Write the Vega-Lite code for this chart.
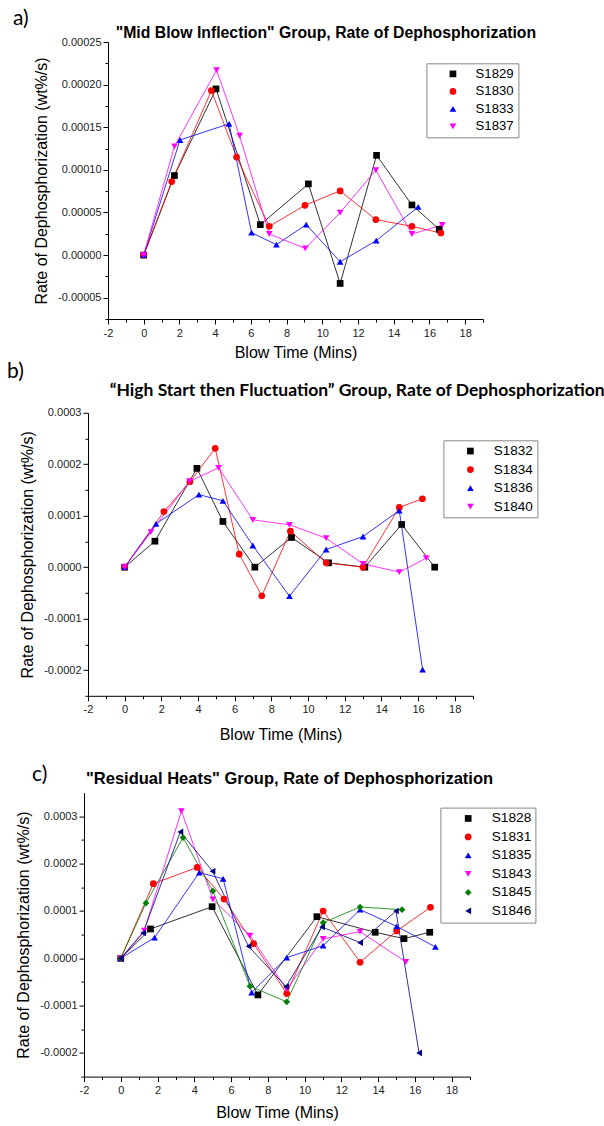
{
  "$schema": "https://vega.github.io/schema/vega-lite/v6.json",
  "background": "white",
  "padding": {"top": 7, "left": 0, "right": 0, "bottom": 0},
  "spacing": 0.8,
  "config": {
    "view": {"stroke": null},
    "title": {"color": "black"},
    "axis": {"grid": false, "domainColor": "black", "tickColor": "black", "labelColor": "#222222", "labelFont": "Liberation Sans", "labelFontSize": 11, "titleFont": "Liberation Sans", "titleFontSize": 16, "titleFontWeight": "normal", "titleColor": "black", "labelFlush": false, "labelOverlap": false},
    "axisX": {"labelPadding": 3, "titlePadding": 6},
    "axisY": {"labelPadding": 2, "titlePadding": 8},
    "legend": {"labelFont": "Liberation Sans", "labelColor": "black", "strokeColor": "#888888", "fillColor": "white", "padding": 4, "symbolStrokeWidth": 0, "symbolSize": 45, "rowPadding": 3.5}
  },
  "resolve": {"scale": {"color": "independent", "shape": "independent", "stroke": "independent"}},
  "datasets": {
    "a": [
      {"s": "S1829", "t": 0, "r": 0}, {"s": "S1829", "t": 1.72, "r": 0.0000933}, {"s": "S1829", "t": 4.05, "r": 0.000195}, {"s": "S1829", "t": 6.53, "r": 0.0000357}, {"s": "S1829", "t": 9.22, "r": 0.0000835}, {"s": "S1829", "t": 11.0, "r": -0.0000333}, {"s": "S1829", "t": 13.04, "r": 0.000117}, {"s": "S1829", "t": 15.02, "r": 0.0000588}, {"s": "S1829", "t": 16.55, "r": 0.0000302},
      {"s": "S1830", "t": 0, "r": 0}, {"s": "S1830", "t": 1.57, "r": 0.0000863}, {"s": "S1830", "t": 3.79, "r": 0.000193}, {"s": "S1830", "t": 5.2, "r": 0.000115}, {"s": "S1830", "t": 7.03, "r": 0.0000337}, {"s": "S1830", "t": 9.03, "r": 0.0000584}, {"s": "S1830", "t": 11.0, "r": 0.0000753}, {"s": "S1830", "t": 13.0, "r": 0.0000416}, {"s": "S1830", "t": 15.02, "r": 0.0000337}, {"s": "S1830", "t": 16.64, "r": 0.0000259},
      {"s": "S1833", "t": 0, "r": 0}, {"s": "S1833", "t": 2.03, "r": 0.000135}, {"s": "S1833", "t": 4.78, "r": 0.000154}, {"s": "S1833", "t": 6.04, "r": 0.0000263}, {"s": "S1833", "t": 7.43, "r": 0.0000122}, {"s": "S1833", "t": 9.1, "r": 0.0000357}, {"s": "S1833", "t": 11.0, "r": -0.0000078}, {"s": "S1833", "t": 13.02, "r": 0.0000169}, {"s": "S1833", "t": 15.37, "r": 0.0000565},
      {"s": "S1837", "t": 0, "r": 0}, {"s": "S1837", "t": 1.72, "r": 0.0001275}, {"s": "S1837", "t": 4.08, "r": 0.000217}, {"s": "S1837", "t": 5.37, "r": 0.00014}, {"s": "S1837", "t": 7.03, "r": 0.0000247}, {"s": "S1837", "t": 9.05, "r": 0.0000078}, {"s": "S1837", "t": 11.0, "r": 0.0000498}, {"s": "S1837", "t": 13.0, "r": 0.0000996}, {"s": "S1837", "t": 15.02, "r": 0.0000247}, {"s": "S1837", "t": 16.72, "r": 0.0000353}
    ],
    "b": [
      {"s": "S1832", "t": 0, "r": 0}, {"s": "S1832", "t": 1.65, "r": 0.0000505}, {"s": "S1832", "t": 3.94, "r": 0.000192}, {"s": "S1832", "t": 5.36, "r": 0.0000888}, {"s": "S1832", "t": 7.1, "r": 0}, {"s": "S1832", "t": 9.1, "r": 0.0000577}, {"s": "S1832", "t": 11.12, "r": 0.0000084}, {"s": "S1832", "t": 13.1, "r": 0}, {"s": "S1832", "t": 15.11, "r": 0.000083}, {"s": "S1832", "t": 16.91, "r": 0},
      {"s": "S1834", "t": 0, "r": 0}, {"s": "S1834", "t": 2.14, "r": 0.000108}, {"s": "S1834", "t": 3.56, "r": 0.000166}, {"s": "S1834", "t": 4.94, "r": 0.000231}, {"s": "S1834", "t": 6.25, "r": 0.0000253}, {"s": "S1834", "t": 7.48, "r": -0.0000557}, {"s": "S1834", "t": 9.04, "r": 0.00007}, {"s": "S1834", "t": 10.99, "r": 0.0000084}, {"s": "S1834", "t": 13.0, "r": 0}, {"s": "S1834", "t": 14.98, "r": 0.000116}, {"s": "S1834", "t": 16.24, "r": 0.000133},
      {"s": "S1836", "t": 0, "r": 0}, {"s": "S1836", "t": 1.71, "r": 0.0000843}, {"s": "S1836", "t": 4.05, "r": 0.000141}, {"s": "S1836", "t": 5.36, "r": 0.000129}, {"s": "S1836", "t": 6.99, "r": 0.0000421}, {"s": "S1836", "t": 8.99, "r": -0.0000564}, {"s": "S1836", "t": 10.99, "r": 0.0000343}, {"s": "S1836", "t": 13.0, "r": 0.0000596}, {"s": "S1836", "t": 14.98, "r": 0.00011}, {"s": "S1836", "t": 16.25, "r": -0.000199},
      {"s": "S1840", "t": 0, "r": 0}, {"s": "S1840", "t": 1.43, "r": 0.000068}, {"s": "S1840", "t": 3.54, "r": 0.000167}, {"s": "S1840", "t": 5.12, "r": 0.000193}, {"s": "S1840", "t": 6.99, "r": 0.000092}, {"s": "S1840", "t": 8.99, "r": 0.0000823}, {"s": "S1840", "t": 10.99, "r": 0.0000564}, {"s": "S1840", "t": 13.0, "r": 0.0000065}, {"s": "S1840", "t": 14.98, "r": -0.0000097}, {"s": "S1840", "t": 16.45, "r": 0.0000175}
    ],
    "c": [
      {"s": "S1828", "t": 0, "r": 0}, {"s": "S1828", "t": 1.62, "r": 0.0000619}, {"s": "S1828", "t": 4.97, "r": 0.000109}, {"s": "S1828", "t": 7.46, "r": -0.0000774}, {"s": "S1828", "t": 10.67, "r": 0.0000879}, {"s": "S1828", "t": 13.84, "r": 0.0000549}, {"s": "S1828", "t": 15.41, "r": 0.0000415}, {"s": "S1828", "t": 16.81, "r": 0.0000549},
      {"s": "S1831", "t": 0, "r": 0}, {"s": "S1831", "t": 1.77, "r": 0.0001575}, {"s": "S1831", "t": 4.16, "r": 0.000192}, {"s": "S1831", "t": 5.62, "r": 0.000125}, {"s": "S1831", "t": 7.23, "r": 0.0000309}, {"s": "S1831", "t": 9.03, "r": -0.0000745}, {"s": "S1831", "t": 11.01, "r": 0.0000999}, {"s": "S1831", "t": 13.02, "r": -0.0000084}, {"s": "S1831", "t": 15.01, "r": 0.0000577}, {"s": "S1831", "t": 16.85, "r": 0.0001076},
      {"s": "S1835", "t": 0, "r": 0}, {"s": "S1835", "t": 1.84, "r": 0.0000436}, {"s": "S1835", "t": 4.27, "r": 0.000181}, {"s": "S1835", "t": 5.57, "r": 0.000168}, {"s": "S1835", "t": 7.12, "r": -0.0000724}, {"s": "S1835", "t": 9.03, "r": 0.0000014}, {"s": "S1835", "t": 11.01, "r": 0.0000267}, {"s": "S1835", "t": 13.02, "r": 0.0001027}, {"s": "S1835", "t": 15.01, "r": 0.0000675}, {"s": "S1835", "t": 17.12, "r": 0.0000239},
      {"s": "S1843", "t": 0, "r": 0}, {"s": "S1843", "t": 1.28, "r": 0.0000584}, {"s": "S1843", "t": 3.3, "r": 0.000311}, {"s": "S1843", "t": 5.01, "r": 0.0001245}, {"s": "S1843", "t": 7.03, "r": 0.0000478}, {"s": "S1843", "t": 9.03, "r": -0.0000654}, {"s": "S1843", "t": 11.01, "r": 0.0000408}, {"s": "S1843", "t": 13.02, "r": 0.0000563}, {"s": "S1843", "t": 15.51, "r": -0.0000077},
      {"s": "S1845", "t": 0, "r": 0}, {"s": "S1845", "t": 1.37, "r": 0.0001167}, {"s": "S1845", "t": 3.39, "r": 0.000255}, {"s": "S1845", "t": 5.01, "r": 0.000142}, {"s": "S1845", "t": 7.03, "r": -0.000059}, {"s": "S1845", "t": 9.03, "r": -0.0000921}, {"s": "S1845", "t": 11.01, "r": 0.0000752}, {"s": "S1845", "t": 13.02, "r": 0.0001083}, {"s": "S1845", "t": 15.3, "r": 0.0001027},
      {"s": "S1846", "t": 0, "r": 0}, {"s": "S1846", "t": 1.21, "r": 0.0000534}, {"s": "S1846", "t": 3.24, "r": 0.000267}, {"s": "S1846", "t": 4.99, "r": 0.000184}, {"s": "S1846", "t": 6.95, "r": 0.0000253}, {"s": "S1846", "t": 8.99, "r": -0.0000598}, {"s": "S1846", "t": 10.95, "r": 0.0000661}, {"s": "S1846", "t": 13.02, "r": 0.000033}, {"s": "S1846", "t": 14.97, "r": 0.0000999}, {"s": "S1846", "t": 16.23, "r": -0.0002}
    ]
  },
  "vconcat": [
    {
      "title": {"text": "a)", "anchor": "start", "frame": "bounds", "dx": 13, "offset": -3.5, "font": "Lato", "fontSize": 21, "fontWeight": "normal"},
      "spacing": 0,
      "resolve": {"scale": {"color": "independent", "shape": "independent", "stroke": "independent"}},
      "hconcat": [
        {"width": 33, "height": 20, "data": {"values": []}, "mark": "point"},
        {
          "width": 375, "height": 277,
          "data": {"name": "a"},
          "title": {"text": "\"Mid Blow Inflection\" Group, Rate of Dephosphorization", "anchor": "start", "frame": "group", "dx": 7.7, "offset": -6, "font": "Liberation Sans", "fontSize": 15.8, "fontWeight": "bold"},
          "encoding": {
            "x": {"field": "t", "type": "quantitative", "title": "Blow Time (Mins)", "scale": {"domain": [-2, 19], "nice": false, "zero": false},
              "axis": {"values": [-2,-1,0,1,2,3,4,5,6,7,8,9,10,11,12,13,14,15,16,17,18,19], "labelExpr": "datum.value % 2 === 0 && datum.value < 19 ? (datum.value < 0 ? '-' : '') + abs(datum.value) : ''", "tickSize": {"condition": {"test": "datum.value % 2 === 0", "value": 5}, "value": 3}}},
            "y": {"field": "r", "type": "quantitative", "title": "Rate of Dephosphorization (wt%/s)", "scale": {"domain": [-0.000075, 0.00025], "nice": false, "zero": false},
              "axis": {"values": [-0.000075,-0.00005,-0.000025,0,0.000025,0.00005,0.000075,0.0001,0.000125,0.00015,0.000175,0.0002,0.000225,0.00025], "labelExpr": "abs(datum.value/0.00005 - round(datum.value/0.00005)) < 0.01 ? (datum.value < 0 ? '-' : '') + format(abs(datum.value), '.5f') : ''", "tickSize": {"condition": {"test": "abs(datum.value/0.00005 - round(datum.value/0.00005)) < 0.01", "value": 5}, "value": 3}}}
          },
          "layer": [
            {"mark": {"type": "line", "strokeWidth": 1, "opacity": 0.8},
             "encoding": {"stroke": {"field": "s", "type": "nominal", "scale": {"domain": ["S1837","S1833","S1830","S1829"], "range": ["#ff00ff","#0000ff","#ff0000","#000000"]}, "legend": null}}},
            {"mark": {"type": "point", "filled": true, "size": 45, "opacity": 1},
             "encoding": {
               "color": {"field": "s", "type": "nominal", "scale": {"domain": ["S1829","S1830","S1833","S1837"], "range": ["#000000","#ff0000","#0000ff","#ff00ff"]},
                 "legend": {"title": null, "orient": "none", "legendX": 318.4, "legendY": 21.3, "labelFontSize": 13.2, "symbolOffset": 15.95, "labelOffset": 15.95}},
               "shape": {"field": "s", "type": "nominal", "scale": {"domain": ["S1829","S1830","S1833","S1837"], "range": ["square","circle","triangle-up","triangle-down"]},
                 "legend": {"title": null, "orient": "none", "legendX": 318.4, "legendY": 21.3, "labelFontSize": 13.2, "symbolOffset": 15.95, "labelOffset": 15.95}}
             }}
          ]
        }
      ]
    },
    {
      "title": {"text": "b)", "anchor": "start", "frame": "bounds", "dx": 7, "offset": 0, "font": "Lato", "fontSize": 21, "fontWeight": "normal"},
      "spacing": 0,
      "resolve": {"scale": {"color": "independent", "shape": "independent", "stroke": "independent"}},
      "hconcat": [
        {"width": 19, "height": 350, "data": {"values": []}, "mark": "point"},
        {
          "width": 385, "height": 283,
          "data": {"name": "b"},
          "title": {"text": "“High Start then Fluctuation” Group, Rate of Dephosphorization", "anchor": "start", "frame": "group", "dx": 21.7, "offset": 7, "font": "Lato", "fontSize": 17.5, "fontWeight": "bold"},
          "encoding": {
            "x": {"field": "t", "type": "quantitative", "title": "Blow Time (Mins)", "scale": {"domain": [-2, 19], "nice": false, "zero": false},
              "axis": {"titlePadding": 12, "values": [-2,-1,0,1,2,3,4,5,6,7,8,9,10,11,12,13,14,15,16,17,18,19], "labelExpr": "datum.value % 2 === 0 && datum.value < 19 ? (datum.value < 0 ? '-' : '') + abs(datum.value) : ''", "tickSize": {"condition": {"test": "datum.value % 2 === 0", "value": 5}, "value": 3}}},
            "y": {"field": "r", "type": "quantitative", "title": "Rate of Dephosphorization (wt%/s)", "scale": {"domain": [-0.00025, 0.0003], "nice": false, "zero": false},
              "axis": {"values": [-0.00025,-0.0002,-0.00015,-0.0001,-0.00005,0,0.00005,0.0001,0.00015,0.0002,0.00025,0.0003], "labelExpr": "abs(datum.value/0.0001 - round(datum.value/0.0001)) < 0.01 ? (datum.value < 0 ? '-' : '') + format(abs(datum.value), '.4f') : ''", "tickSize": {"condition": {"test": "abs(datum.value/0.0001 - round(datum.value/0.0001)) < 0.01", "value": 5}, "value": 3}}}
          },
          "layer": [
            {"mark": {"type": "line", "strokeWidth": 1, "opacity": 0.8},
             "encoding": {"stroke": {"field": "s", "type": "nominal", "scale": {"domain": ["S1840","S1836","S1834","S1832"], "range": ["#ff00ff","#0000ff","#ff0000","#000000"]}, "legend": null}}},
            {"mark": {"type": "point", "filled": true, "size": 45, "opacity": 1},
             "encoding": {
               "color": {"field": "s", "type": "nominal", "scale": {"domain": ["S1832","S1834","S1836","S1840"], "range": ["#000000","#ff0000","#0000ff","#ff00ff"]},
                 "legend": {"title": null, "orient": "none", "legendX": 355.4, "legendY": 27.5, "labelFontSize": 13.5, "symbolOffset": 16.25, "labelOffset": 16.65}},
               "shape": {"field": "s", "type": "nominal", "scale": {"domain": ["S1832","S1834","S1836","S1840"], "range": ["square","circle","triangle-up","triangle-down"]},
                 "legend": {"title": null, "orient": "none", "legendX": 355.4, "legendY": 27.5, "labelFontSize": 13.5, "symbolOffset": 16.25, "labelOffset": 16.65}}
             }}
          ]
        }
      ]
    },
    {
      "title": {"text": "c)", "anchor": "start", "frame": "bounds", "dx": 32, "offset": -14.5, "font": "Lato", "fontSize": 21, "fontWeight": "normal"},
      "spacing": 0,
      "resolve": {"scale": {"color": "independent", "shape": "independent", "stroke": "independent"}},
      "hconcat": [
        {"width": 15, "height": 20, "data": {"values": []}, "mark": "point"},
        {
          "width": 386, "height": 284,
          "data": {"name": "c"},
          "title": {"text": "\"Residual Heats\" Group, Rate of Dephosphorization", "anchor": "start", "frame": "group", "dx": 2, "offset": 5.6, "font": "Liberation Sans", "fontSize": 16.5, "fontWeight": "bold"},
          "encoding": {
            "x": {"field": "t", "type": "quantitative", "title": "Blow Time (Mins)", "scale": {"domain": [-2, 19], "nice": false, "zero": false},
              "axis": {"titlePadding": 9, "values": [-2,-1,0,1,2,3,4,5,6,7,8,9,10,11,12,13,14,15,16,17,18,19], "labelExpr": "datum.value % 2 === 0 && datum.value < 19 ? (datum.value < 0 ? '-' : '') + abs(datum.value) : ''", "tickSize": {"condition": {"test": "datum.value % 2 === 0", "value": 5}, "value": 3}}},
            "y": {"field": "r", "type": "quantitative", "title": "Rate of Dephosphorization (wt%/s)", "scale": {"domain": [-0.00025, 0.00035], "nice": false, "zero": false},
              "axis": {"values": [-0.00025,-0.0002,-0.00015,-0.0001,-0.00005,0,0.00005,0.0001,0.00015,0.0002,0.00025,0.0003], "labelExpr": "abs(datum.value/0.0001 - round(datum.value/0.0001)) < 0.01 ? (datum.value < 0 ? '-' : '') + format(abs(datum.value), '.4f') : ''", "tickSize": {"condition": {"test": "abs(datum.value/0.0001 - round(datum.value/0.0001)) < 0.01", "value": 5}, "value": 3}}}
          },
          "layer": [
            {"mark": {"type": "line", "strokeWidth": 1, "opacity": 0.8},
             "encoding": {"stroke": {"field": "s", "type": "nominal", "scale": {"domain": ["S1846","S1845","S1843","S1835","S1831","S1828"], "range": ["#000080","#008000","#ff00ff","#0000ff","#ff0000","#000000"]}, "legend": null}}},
            {"mark": {"type": "point", "filled": true, "size": 45, "opacity": 1},
             "encoding": {
               "color": {"field": "s", "type": "nominal", "scale": {"domain": ["S1828","S1831","S1835","S1843","S1845","S1846"], "range": ["#000000","#ff0000","#0000ff","#ff00ff","#008000","#000080"]},
                 "legend": {"title": null, "orient": "none", "legendX": 356.4, "legendY": 15, "labelFontSize": 13.7, "symbolOffset": 16.95, "labelOffset": 16.65}},
               "shape": {"field": "s", "type": "nominal", "scale": {"domain": ["S1828","S1831","S1835","S1843","S1845","S1846"], "range": ["square","circle","triangle-up","triangle-down","diamond","triangle-left"]},
                 "legend": {"title": null, "orient": "none", "legendX": 356.4, "legendY": 15, "labelFontSize": 13.7, "symbolOffset": 16.95, "labelOffset": 16.65}}
             }}
          ]
        }
      ]
    }
  ]
}
